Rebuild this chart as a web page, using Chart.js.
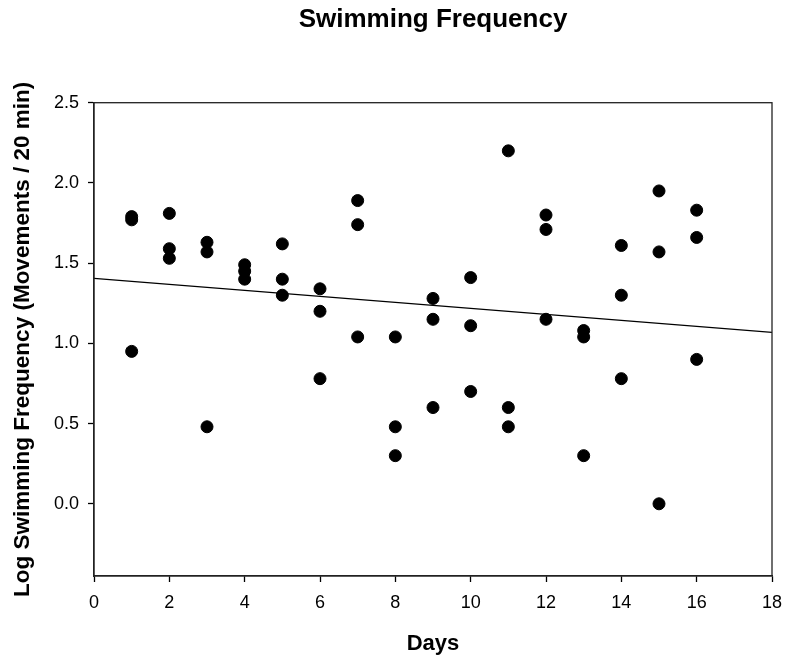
<!DOCTYPE html>
<html>
<head>
<meta charset="utf-8">
<script src="https://cdn.jsdelivr.net/npm/chart.js@4"></script>
<style>
  html, body { margin: 0; padding: 0; background: #fff; }
  #wrap { width: 785px; height: 657px; }
</style>
</head>
<body>
<div id="wrap"><canvas id="Graph_nage"></canvas></div>
<script>
// three fish measured each day
var jours = [1,1,1, 2,2,2, 3,3,3, 4,4,4, 5,5,5, 6,6,6, 7,7,7, 8,8,8,
             9,9,9, 10,10,10, 11,11,11, 12,12,12, 13,13,13, 14,14,14, 15,15,15, 16,16,16];
var frequence_log = [1.79,1.77,0.95, 1.81,1.59,1.53, 1.63,1.57,0.48, 1.49,1.45,1.40,
                     1.62,1.40,1.30, 1.34,1.20,0.78, 1.89,1.74,1.04, 1.04,0.48,0.30,
                     1.28,1.15,0.60, 1.41,1.11,0.70, 2.20,0.60,0.48, 1.80,1.71,1.15,
                     1.08,1.04,0.30, 1.61,1.30,0.78, 1.95,1.57,0.00, 1.83,1.66,0.90];

// fitted regression line, ends at the axis limits
var droite_x = [0, 18];
var droite_y = [1.405, 1.068];

var ticks_y = [0.0, 0.5, 1.0, 1.5, 2.0, 2.5];

var points = [];
for (let i = 0; i < jours.length; i++) {
  points.push({x: jours[i], y: frequence_log[i]});
}
var droite = [];
for (let i = 0; i < droite_x.length; i++) {
  droite.push({x: droite_x[i], y: droite_y[i]});
}

Chart.defaults.font.family = "Arial, 'Liberation Sans', sans-serif";
Chart.defaults.color = '#000';

// box around the plot area
const cadre = {
  id: 'cadre',
  afterDatasetsDraw(chart) {
    const a = chart.chartArea;
    const ctx = chart.ctx;
    ctx.save();
    ctx.strokeStyle = '#222';
    ctx.lineWidth = 1.3;
    ctx.strokeRect(a.left, a.top, a.right - a.left, a.bottom - a.top);
    ctx.restore();
  }
};

var ctx = document.getElementById('Graph_nage').getContext('2d');

var Graph_nage = new Chart(ctx, {
  type: 'scatter',
  data: {
    datasets: [{
      data: points,
      backgroundColor: '#000',
      borderColor: '#000',
      pointRadius: 6,
      pointBorderWidth: 1,
      order: 1
    }, {
      type: 'line',
      data: droite,
      borderColor: '#000',
      borderWidth: 1.3,
      pointRadius: 0,
      fill: false,
      order: 2
    }]
  },
  options: {
    responsive: true,
    maintainAspectRatio: false,
    animation: false,
    events: [],
    layout: { padding: { left: 0, right: 13, top: 0, bottom: 0 } },
    plugins: {
      legend: { display: false },
      tooltip: { enabled: false },
      title: {
        display: true,
        fullSize: false,
        text: 'Swimming Frequency',
        font: { size: 26, weight: 'bold', lineHeight: 1.2 },
        color: '#000',
        padding: { top: 4.5, bottom: 67 }
      }
    },
    scales: {
      x: {
        type: 'linear',
        min: 0,
        max: 18,
        ticks: { stepSize: 2, font: { size: 18 }, padding: 10, color: '#000' },
        grid: { display: true, drawOnChartArea: false, drawTicks: true, tickLength: 6, color: '#000', tickWidth: 1.3 },
        border: { display: true, color: '#222', width: 1.3 },
        title: {
          display: true,
          text: 'Days',
          font: { size: 22, weight: 'bold', lineHeight: 1.2 },
          padding: { top: 0, bottom: 0 }
        },
        afterFit: function(scale) {
          scale.height = 81;
          scale.paddingLeft = 0;
          scale.paddingRight = 0;
        }
      },
      y: {
        type: 'linear',
        min: -0.45,
        max: 2.5,
        afterBuildTicks: function(axis) {
          axis.ticks = ticks_y.map(v => ({ value: v }));
        },
        ticks: {
          font: { size: 18 },
          padding: 9,
          color: '#000',
          callback: function(v) { return Number(v).toFixed(1); }
        },
        grid: { display: true, drawOnChartArea: false, drawTicks: true, tickLength: 6, color: '#000', tickWidth: 1.3 },
        border: { display: true, color: '#222', width: 1.3 },
        title: {
          display: true,
          text: 'Log Swimming Frequency (Movements / 20 min)',
          font: { size: 22.5, weight: 'bold', lineHeight: 1.2 },
          padding: { top: 9, bottom: 0 }
        },
        afterFit: function(scale) { scale.width = 94; }
      }
    }
  },
  plugins: [cadre]
});
</script>
</body>
</html>
